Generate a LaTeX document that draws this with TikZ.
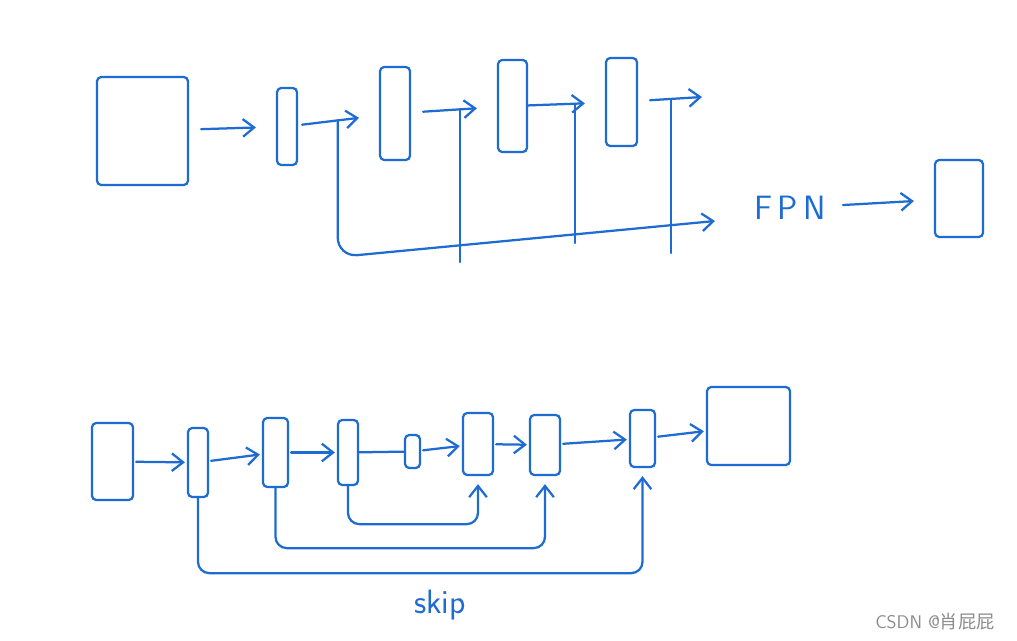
\documentclass[tikz,border=0pt]{standalone}
\usepackage{fontspec}
\newfontfamily\cjkfont{Noto Sans CJK SC}
\usetikzlibrary{arrows.meta,fit}
\definecolor{pen}{RGB}{30,108,210}
\tikzset{
  stroke/.style={draw=pen, line width=1.6pt, line cap=round, line join=round},
  blk/.style={stroke, inner sep=0pt, rounded corners=3pt},
  feed/.style={stroke, ->, shorten <=3mm, shorten >=5mm},
  link/.style={stroke, ->, shorten <=0.5mm, shorten >=0.5mm},
  skipline/.style={stroke, ->, rounded corners=8pt, shorten >=2mm},
  hand/.style={text=pen, font=\fontsize{24}{24}\selectfont\sffamily}
}
\begin{document}
\begin{tikzpicture}[x=0.25mm, y=-0.25mm, >={Straight Barb[length=2.8mm,width=4.4mm]}]
  \useasboundingbox[fill=white] (0,0) rectangle (1017,641);
  % top row: backbone, taps into the FPN
  \node[blk, fit={(97,77) (188,185)}] (a) {};
  \node[blk, fit={(277,88) (297,165)}] (b) {};
  \node[blk, fit={(380,67) (410,160)}] (c) {};
  \node[blk, fit={(498,60) (527,152)}] (d) {};
  \node[blk, fit={(606,58) (637,146)}] (e) {};
  \coordinate (eout) at (702,97);
  \node[hand] (fpn) at (790,208) {F\,P\,N};
  \node[blk, fit={(935,160) (983,237)}] (f) {};
  \draw[feed] (a) -- (b);
  \draw[feed, shorten <=1mm] (b) -- coordinate[pos=0.49] (t1) (c);
  \draw[feed] (c) -- coordinate[pos=0.57] (t2) (d);
  \draw[feed, shorten <=0mm] (d) -- coordinate[pos=0.61] (t3) (e);
  \draw[feed, shorten >=0pt] (e) -- coordinate[pos=0.51] (t4) (eout);
  \coordinate (bus) at (345,257);
  \coordinate (fpnin) at (715,221);
  \draw[stroke, ->, rounded corners=14pt] (t1) -- (t1 |- bus) -- (fpnin);
  \draw[stroke] (t2) -- (t2 |- 0,262);
  \draw[stroke] (t3) -- (t3 |- 0,243);
  \draw[stroke] (t4) -- (t4 |- 0,253);
  \draw[feed] (fpn) -- (f);
  % bottom row: skip connections
  \node[blk, fit={(92,423) (133,500)}] (b1) {};
  \node[blk, fit={(188,428) (208,497)}] (b2) {};
  \node[blk, fit={(263,418) (288,487)}] (b3) {};
  \node[blk, fit={(338,420) (358,485)}] (b4) {};
  \node[blk, fit={(405,435) (420,468)}] (b5) {};
  \node[blk, fit={(463,413) (493,475)}] (b6) {};
  \node[blk, fit={(530,415) (560,475)}] (b7) {};
  \node[blk, fit={(630,410) (655,467)}] (b8) {};
  \node[blk, fit={(707,387) (790,465)}] (b9) {};
  \draw[link] (b1) -- (b2);
  \draw[link] (b2) -- (b3);
  \draw[link] (b3) -- (b4);
  \draw[stroke] (b4) -- (b5);
  \draw[link] (b5) -- (b6);
  \draw[link] (b6) -- (b7);
  \draw[link] (b7) -- (b8);
  \draw[link] (b8) -- (b9);
  \draw[skipline] (b4.south) -- ++(0,38) -| (b6.south);
  \draw[skipline] (b3.south) -- ++(0,60) -| (b7.south);
  \draw[skipline] (b2.south) -- ++(0,75) -| (b8.south);
  \node[hand] (skiplbl) at (440,605) {skip};
  \node[text=black!45, font=\fontsize{13}{13}\selectfont\sffamily] (mark) at (935,622) {CSDN @{\cjkfont 肖屁屁}};
\end{tikzpicture}
\end{document}
